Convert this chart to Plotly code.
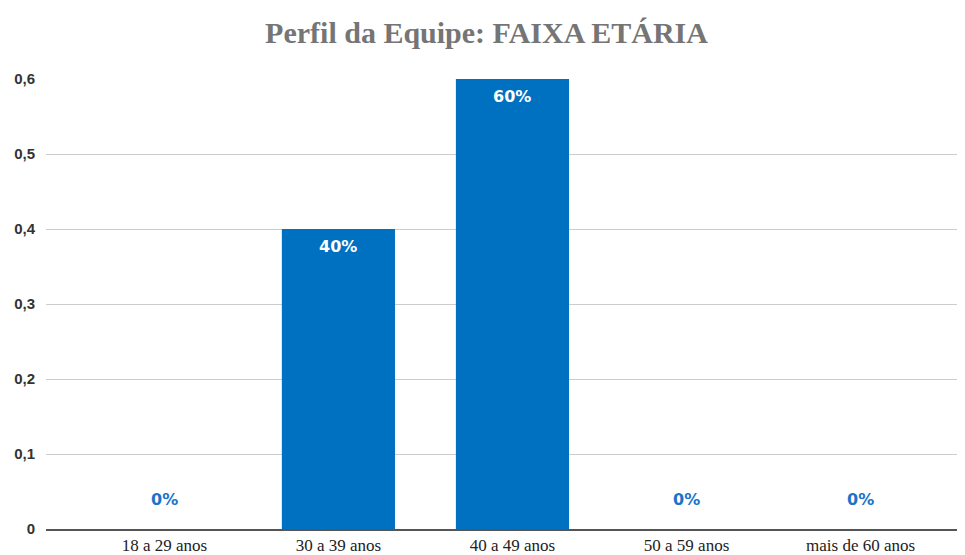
import plotly.graph_objects as go

categories = ["18 a 29 anos", "30 a 39 anos", "40 a 49 anos", "50 a 59 anos", "mais de 60 anos"]
values = [0, 0.4, 0.6, 0, 0]
labels = ["0%", "40%", "60%", "0%", "0%"]
tick_vals = [0, 0.1, 0.2, 0.3, 0.4, 0.5, 0.6]
tick_text = ["0", "0,1", "0,2", "0,3", "0,4", "0,5", "0,6"]

bar_color = "#0070c0"
x_idx = list(range(len(categories)))

fig = go.Figure()
fig.add_trace(go.Bar(
    x=x_idx, y=values, width=0.65,
    marker=dict(color=bar_color, line=dict(width=0)),
    hoverinfo="skip",
))

for i, (v, l) in enumerate(zip(values, labels)):
    if v == 0:
        fig.add_annotation(x=i, y=v, text=l, showarrow=False, yshift=30,
                           font=dict(family="DejaVu Sans", size=16, color="#1a73c8", weight="bold"))
    else:
        fig.add_annotation(x=i, y=v, text=l, showarrow=False, yshift=-17,
                           font=dict(family="DejaVu Sans", size=16, color="white", weight="bold"))

fig.update_layout(
    width=957, height=547,
    margin=dict(l=38, r=0, t=71, b=20, pad=0),
    paper_bgcolor="white", plot_bgcolor="white",
    title=dict(text="<b>Perfil da Equipe: FAIXA ETÁRIA</b>", x=0.5, xanchor="center", y=0.956, yanchor="middle",
               font=dict(family="Liberation Serif", size=30, color="#757575")),
    showlegend=False,
    xaxis=dict(tickvals=x_idx, ticktext=categories, range=[-0.68, 4.6],
               showgrid=False, zeroline=False, showline=True, linecolor="#555555", linewidth=2,
               tickfont=dict(family="Liberation Serif", size=17, color="#222222"), ticks=""),
    yaxis=dict(range=[0, 0.6], tickvals=tick_vals, ticktext=tick_text,
               showgrid=True, gridcolor="#cccccc", gridwidth=1, zeroline=False,
               tickfont=dict(family="Liberation Sans", size=15, color="#333333", weight="bold"), ticks="",
               ticklabelstandoff=10),
    bargap=0.35,
)

fig.write_html("out.html")
